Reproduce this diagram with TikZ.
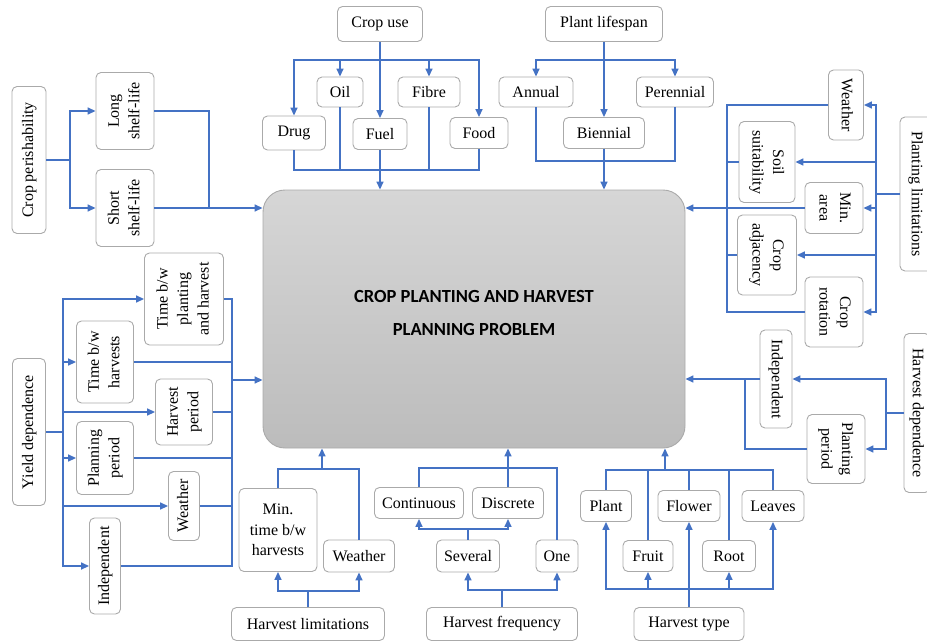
\documentclass[tikz,border=0pt]{standalone}
\usepackage{fontspec}
\usepackage{graphicx}
\setmainfont{Liberation Serif}
\newfontfamily\coresans{Carlito}
\usetikzlibrary{arrows.meta}
\definecolor{linkblue}{RGB}{68,114,196}
\definecolor{boxgray}{RGB}{170,170,170}
\definecolor{coretop}{RGB}{214,214,214}
\definecolor{corebot}{RGB}{188,188,188}
\newcommand{\itemfont}{\fontsize{16}{20.5}\selectfont}
\newcommand{\uptext}[1]{\rotatebox{90}{\begin{tabular}{@{}c@{}}#1\end{tabular}}}
\newcommand{\downtext}[1]{\rotatebox{-90}{\begin{tabular}{@{}c@{}}#1\end{tabular}}}
\tikzstyle{item} = [rectangle, rounded corners=5pt, draw=boxgray, line width=0.9pt, fill=white, inner sep=0pt, align=center, font=\itemfont]
\tikzstyle{core} = [rectangle, rounded corners=22pt, draw=boxgray, line width=0.9pt, top color=coretop, bottom color=corebot, align=center, text depth=12pt, font=\coresans\bfseries\fontsize{18.5}{33}\selectfont]
\tikzstyle{link} = [linkblue, line width=1.6pt]
\tikzstyle{arrow} = [link, -{Triangle[length=8pt,width=7pt]}]
\tikzset{boxsize/.style 2 args={minimum width=#1, minimum height=#2}}

\begin{document}
\begin{tikzpicture}[x=1pt, y=-1pt]
\useasboundingbox (0,0) rectangle (927,643);

\node (core) [core, boxsize={422}{258}] at (474,319) {CROP PLANTING AND HARVEST\\PLANNING PROBLEM};

% crop perishability
\node (perish) [item, boxsize={34}{147}] at (29,160) {\uptext{Crop perishability}};
\node (longsl) [item, boxsize={58}{77}] at (125,111) {\uptext{Long\\shelf-life}};
\node (shortsl) [item, boxsize={58}{77}] at (125,208) {\uptext{Short\\shelf-life}};

% crop use
\node (cropuse) [item, boxsize={85}{35}] at (380,24) {Crop use};
\node (oil) [item, boxsize={46}{30}] at (340,92) {Oil};
\node (fibre) [item, boxsize={62}{30}] at (429,92) {Fibre};
\node (drug) [item, boxsize={63}{34}] at (294,133) {Drug};
\node (fuel) [item, boxsize={54}{31}] at (380,134) {Fuel};
\node (food) [item, boxsize={58}{31}] at (479,133) {Food};

% plant lifespan
\node (lifespan) [item, boxsize={117}{35}] at (604,24) {Plant lifespan};
\node (annual) [item, boxsize={74}{30}] at (536,92) {Annual};
\node (perennial) [item, boxsize={77}{30}] at (675,92) {Perennial};
\node (biennial) [item, boxsize={81}{31}] at (604,133) {Biennial};

% planting limitations
\node (plantlim) [item, boxsize={32}{154}] at (916,194) {\downtext{Planting limitations}};
\node (weatherR) [item, boxsize={35}{70}] at (846,105) {\downtext{Weather}};
\node (soil) [item, boxsize={56}{81}] at (767,162) {\downtext{Soil\\suitability}};
\node (minarea) [item, boxsize={58}{51}] at (834,208) {\downtext{Min.\\area}};
\node (adjacency) [item, boxsize={59}{80}] at (767,255) {\downtext{Crop\\adjacency}};
\node (rotation) [item, boxsize={58}{70}] at (834,312) {\downtext{Crop\\rotation}};

% harvest dependence
\node (harvdep) [item, boxsize={26}{159}] at (917,413) {\downtext{Harvest dependence}};
\node (indepR) [item, boxsize={32}{98}] at (776,379) {\downtext{Independent}};
\node (plantper) [item, boxsize={58}{69}] at (836,449) {\downtext{Planting\\period}};

% harvest type
\node (harvtype) [item, boxsize={110}{33}] at (689,624) {Harvest type};
\node (plant) [item, boxsize={51}{31}] at (606,506) {Plant};
\node (flower) [item, boxsize={62}{31}] at (689,506) {Flower};
\node (leaves) [item, boxsize={62}{31}] at (773,506) {Leaves};
\node (fruit) [item, boxsize={50}{31}] at (648,556) {Fruit};
\node (root) [item, boxsize={53}{31}] at (729,556) {Root};

% harvest frequency
\node (harvfreq) [item, boxsize={151}{33}] at (502,624) {Harvest frequency};
\node (several) [item, boxsize={63}{32}] at (468,556) {Several};
\node (one) [item, boxsize={42}{32}] at (557,556) {One};
\node (continuous) [item, boxsize={89}{31}] at (419,503) {Continuous};
\node (discrete) [item, boxsize={71}{31}] at (508,503) {Discrete};

% harvest limitations
\node (harvlim) [item, boxsize={153}{33}] at (308,624) {Harvest limitations};
\node (mintime) [item, boxsize={78}{83}] at (278,530) {Min.\\time b/w\\harvests};
\node (weatherB) [item, boxsize={71}{32}] at (359,556) {Weather};

% yield dependence
\node (yielddep) [item, boxsize={33}{147}] at (29,432) {\uptext{Yield dependence}};
\node (timeplant) [item, boxsize={79}{92}] at (184,299) {\uptext{Time b/w\\planting\\and harvest}};
\node (timeharv) [item, boxsize={57}{82}] at (105,362) {\uptext{Time b/w\\harvests}};
\node (harvper) [item, boxsize={57}{66}] at (184,412) {\uptext{Harvest\\period}};
\node (planper) [item, boxsize={57}{73}] at (105,458) {\uptext{Planning\\period}};
\node (weatherL) [item, boxsize={31}{69}] at (184,506) {\uptext{Weather}};
\node (indepL) [item, boxsize={31}{96}] at (105,566) {\uptext{Independent}};

% junctions
\coordinate (jperish) at (70,160);
\coordinate (jshelf) at (209,208);
\coordinate (juse) at (380,60);
\coordinate (juse2) at (380,170);
\coordinate (jlife) at (604,60);
\coordinate (jlife2) at (604,161);
\coordinate (jplim) at (876,194);
\coordinate (jplim2) at (727,208);
\coordinate (jhdep) at (886,413);
\coordinate (jhdep2) at (745,379);
\coordinate (jtype) at (689,589);
\coordinate (jtype2) at (665,470);
\coordinate (jfreq) at (502,590);
\coordinate (jsev) at (468,529);
\coordinate (jfreq2) at (508,468);
\coordinate (jlim) at (308,591);
\coordinate (jlim2) at (322,469);
\coordinate (jyield) at (63,432);
\coordinate (jyield2) at (232,380);

% crop perishability links
\draw [link] (perish) -- (jperish);
\draw [arrow] (jperish) |- (longsl);
\draw [arrow] (jperish) |- (shortsl);
\draw [link] (longsl) -| (jshelf);
\draw [arrow] (shortsl) -- (shortsl -| core.west);

% crop use links
\draw [arrow] (cropuse) -- (fuel);
\draw [arrow] (juse) -| (drug);
\draw [arrow] (juse) -| (oil);
\draw [arrow] (juse) -| (fibre);
\draw [arrow] (juse) -| (food);
\draw [link] (drug) |- (juse2);
\draw [link] (oil) |- (juse2);
\draw [link] (fibre) |- (juse2);
\draw [link] (food) |- (juse2);
\draw [arrow] (fuel) -- (fuel |- core.north);

% plant lifespan links
\draw [arrow] (lifespan) -- (biennial);
\draw [arrow] (jlife) -| (annual);
\draw [arrow] (jlife) -| (perennial);
\draw [link] (annual) |- (jlife2);
\draw [link] (perennial) |- (jlife2);
\draw [arrow] (biennial) -- (biennial |- core.north);

% planting limitations links
\draw [link] (plantlim) -- (jplim);
\draw [arrow] (jplim) |- (weatherR);
\draw [arrow] (jplim) |- (soil);
\draw [arrow] (jplim) |- (minarea);
\draw [arrow] (jplim) |- (adjacency);
\draw [arrow] (jplim) |- (rotation);
\draw [link] (weatherR) -| (jplim2);
\draw [link] (soil) -| (jplim2);
\draw [link] (adjacency) -| (jplim2);
\draw [link] (rotation) -| (jplim2);
\draw [arrow] (minarea) -- (minarea -| core.east);

% harvest dependence links
\draw [link] (harvdep) -- (jhdep);
\draw [arrow] (jhdep) |- (indepR);
\draw [arrow] (jhdep) |- (plantper);
\draw [link] (plantper) -| (jhdep2);
\draw [arrow] (indepR) -- (indepR -| core.east);

% harvest type links
\draw [arrow] (harvtype) -- (flower);
\draw [arrow] (jtype) -| (plant);
\draw [arrow] (jtype) -| (fruit);
\draw [arrow] (jtype) -| (root);
\draw [arrow] (jtype) -| (leaves);
\draw [link] (plant) |- (jtype2);
\draw [link] (fruit) |- (jtype2);
\draw [link] (flower) |- (jtype2);
\draw [link] (root) |- (jtype2);
\draw [link] (leaves) |- (jtype2);
\draw [arrow] (jtype2) -- (jtype2 |- core.south);

% harvest frequency links
\draw [link] (harvfreq) -- (jfreq);
\draw [arrow] (jfreq) -| (several);
\draw [arrow] (jfreq) -| (one);
\draw [link] (several) -- (jsev);
\draw [arrow] (jsev) -| (continuous);
\draw [arrow] (jsev) -| (discrete);
\draw [link] (continuous) |- (jfreq2);
\draw [link] (one) |- (jfreq2);
\draw [arrow] (discrete) -- (discrete |- core.south);

% harvest limitations links
\draw [link] (harvlim) -- (jlim);
\draw [arrow] (jlim) -| (mintime);
\draw [arrow] (jlim) -| (weatherB);
\draw [link] (mintime) |- (jlim2);
\draw [link] (weatherB) |- (jlim2);
\draw [arrow] (jlim2) -- (jlim2 |- core.south);

% yield dependence links
\draw [link] (yielddep) -- (jyield);
\draw [arrow] (jyield) |- (timeplant);
\draw [arrow] (jyield) |- (timeharv);
\draw [arrow] (jyield) |- (harvper);
\draw [arrow] (jyield) |- (planper);
\draw [arrow] (jyield) |- (weatherL);
\draw [arrow] (jyield) |- (indepL);
\draw [link] (timeplant) -| (jyield2);
\draw [link] (timeharv) -| (jyield2);
\draw [link] (harvper) -| (jyield2);
\draw [link] (planper) -| (jyield2);
\draw [link] (weatherL) -| (jyield2);
\draw [link] (indepL) -| (jyield2);
\draw [arrow] (jyield2) -- (jyield2 -| core.west);

\end{tikzpicture}
\end{document}
